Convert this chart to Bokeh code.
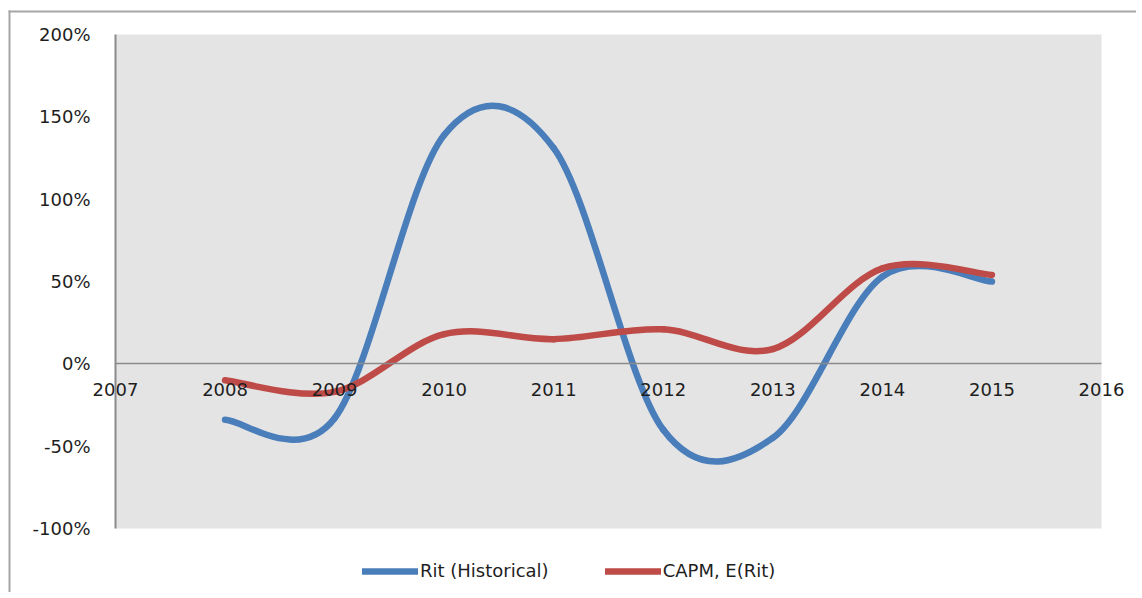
from bokeh.plotting import figure
from bokeh.models import (FixedTicker, PrintfTickFormatter, Legend, LegendItem,
                          ColumnDataSource, LinearAxis, Range1d, BoxAnnotation)
from bokeh.embed import file_html
from bokeh.resources import INLINE

# ---- data ----
years = [2008, 2009, 2010, 2011, 2012, 2013, 2014, 2015]
rit_historical = [-34, -33, 139, 131, -40, -45, 53, 50]   # percent
capm_expected = [-10, -17, 18, 15, 21, 9, 58, 54]          # percent
x_ticks = [2007, 2008, 2009, 2010, 2011, 2012, 2013, 2014, 2015, 2016]
y_ticks = [-100, -50, 0, 50, 100, 150, 200]
series_names = ["Rit (Historical)", "CAPM, E(Rit)"]
series_colors = ["#4A7EBB", "#BE4B48"]

# ---- layout (pixels) ----
W, H = 1136, 592
PL, PR, PT, PB = 115, 1101, 34, 528   # plot area edges
BX, BY, BW = 8, 10, 2                 # outer border position / width
FONT = "DejaVu Sans"
TEXT = "#1e1e1e"
AXIS_GRAY = "#8a8a8a"

ppx = (PR - PL) / (x_ticks[-1] - x_ticks[0])
ppy = (PB - PT) / (y_ticks[-1] - y_ticks[0])
x_range = Range1d(x_ticks[0] - PL / ppx, x_ticks[-1] + (W - PR) / ppx)
y_range = Range1d(y_ticks[0] - (H - PB) / ppy, y_ticks[-1] + PT / ppy)


def smooth_segments(xs, ys):
    """Excel-style smoothed line: cubic Bezier control points (Catmull-Rom, 1/6)."""
    n = len(xs)
    d = dict(x0=[], y0=[], x1=[], y1=[], cx0=[], cy0=[], cx1=[], cy1=[])
    for i in range(n - 1):
        a = i - 1 if i > 0 else i
        b = i + 2 if i + 2 < n else i + 1
        d["x0"].append(xs[i]); d["y0"].append(ys[i])
        d["x1"].append(xs[i + 1]); d["y1"].append(ys[i + 1])
        d["cx0"].append(xs[i] + (xs[i + 1] - xs[a]) / 6.0)
        d["cy0"].append(ys[i] + (ys[i + 1] - ys[a]) / 6.0)
        d["cx1"].append(xs[i + 1] - (xs[b] - xs[i]) / 6.0)
        d["cy1"].append(ys[i + 1] - (ys[b] - ys[i]) / 6.0)
    return ColumnDataSource(d)


p = figure(frame_width=W, frame_height=H, min_border=0,
           x_range=x_range, y_range=y_range,
           output_backend="svg", toolbar_location=None,
           x_axis_location=None, y_axis_location=None)
p.background_fill_color = "white"
p.border_fill_color = "white"
p.outline_line_color = None
p.xgrid.visible = False
p.ygrid.visible = False

# outer chart border (only its left and top edges fall inside the picture)
bx0 = x_range.start + BX / ppx
by0 = y_range.end - BY / ppy
p.add_layout(BoxAnnotation(left=bx0, right=bx0 + BW / ppx, top=by0, bottom=None,
                           fill_color="#a6a6a6", fill_alpha=1, line_color=None,
                           level="underlay"))
p.add_layout(BoxAnnotation(left=bx0, right=None, top=by0, bottom=by0 - BW / ppy,
                           fill_color="#a6a6a6", fill_alpha=1, line_color=None,
                           level="underlay"))

# plot area (grey)
p.quad(left=[x_ticks[0]], right=[x_ticks[-1]], bottom=[y_ticks[0]], top=[y_ticks[-1]],
       fill_color="#e4e4e4", line_color=None)

# y axis at the left edge of the plot area
ya = LinearAxis(ticker=FixedTicker(ticks=y_ticks),
                formatter=PrintfTickFormatter(format="%d%%"))
ya.fixed_location = x_ticks[0]
ya.bounds = (y_ticks[0], y_ticks[-1])
ya.axis_line_color = AXIS_GRAY
ya.axis_line_width = 2
ya.major_tick_line_color = None
ya.minor_tick_line_color = None
ya.major_tick_out = 0
ya.major_tick_in = 0
ya.major_label_standoff = 25
ya.major_label_text_font = FONT
ya.major_label_text_font_size = "18px"
ya.major_label_text_color = TEXT
p.add_layout(ya, "left")

# x axis crossing at 0%
xa = LinearAxis(ticker=FixedTicker(ticks=x_ticks),
                formatter=PrintfTickFormatter(format="%d"))
xa.fixed_location = 0
xa.bounds = (x_ticks[0], x_ticks[-1])
xa.axis_line_color = AXIS_GRAY
xa.axis_line_width = 1.5
xa.major_tick_line_color = None
xa.minor_tick_line_color = None
xa.major_tick_out = 0
xa.major_tick_in = 0
xa.major_label_standoff = 19
xa.major_label_text_font = FONT
xa.major_label_text_font_size = "18px"
xa.major_label_text_color = TEXT
p.add_layout(xa, "below")

items = []
for name, vals, col in zip(series_names, [rit_historical, capm_expected], series_colors):
    src = smooth_segments(years, vals)
    r = p.bezier(x0="x0", y0="y0", x1="x1", y1="y1", cx0="cx0", cy0="cy0",
                 cx1="cx1", cy1="cy1", source=src, line_color=col,
                 line_width=6.5, line_cap="round")
    items.append(LegendItem(label=name, renderers=[r], index=0))

legend = Legend(items=items, orientation="horizontal", location=(362, 11),
                padding=4, spacing=56, glyph_width=56, glyph_height=16,
                label_standoff=2, label_text_font=FONT,
                label_text_font_size="18px", label_text_color=TEXT,
                background_fill_alpha=0, border_line_color=None, margin=0)
p.add_layout(legend, "center")

open("out.html", "w").write(file_html(p, INLINE))
